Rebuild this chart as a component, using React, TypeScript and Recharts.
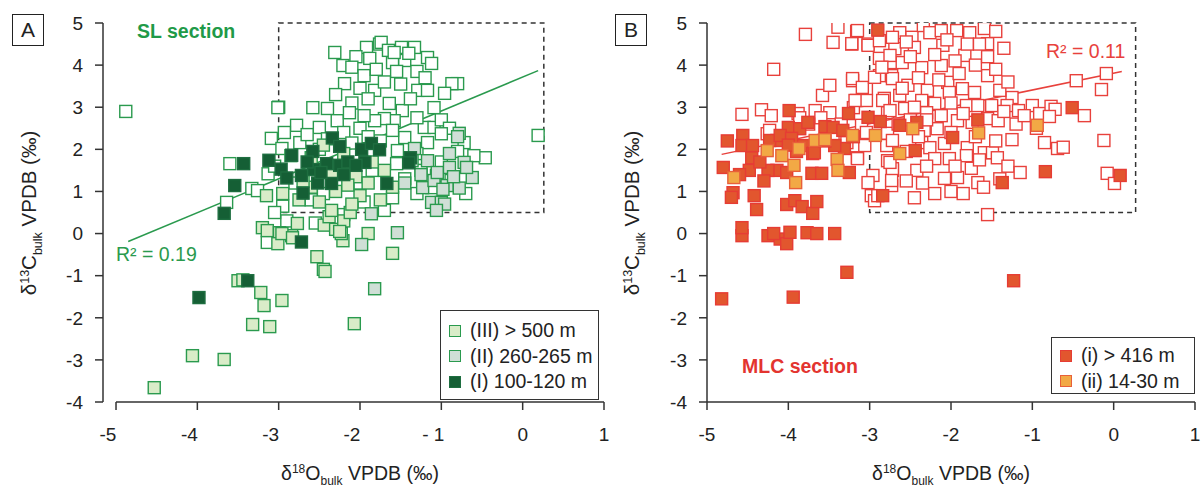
import {
  ScatterChart,
  Scatter,
  XAxis,
  YAxis,
  ReferenceArea,
  ReferenceLine,
} from "recharts";

// SL section (panel A) — [δ18O, δ13C]
const slOpen = [
  [-4.88, 2.9], [-3.0, 3.0], [0.19, 2.33], [-0.46, 1.8], [-3.6, 1.66], [-3.33, 1.07], [-3.64, 0.74], [-3.13, 1.42], [-3.26, 1.02],
  [-2.31, 4.3], [-2.21, 3.99], [-2.19, 3.56], [-1.92, 4.42], [-1.76, 4.5], [-1.74, 4.54], [-1.49, 4.42], [-1.33, 4.42], [-1.17, 4.18],
  [-1.12, 4.04], [-1.88, 4.16], [-1.6, 4.06], [-1.45, 4.11], [-1.65, 4.35], [-1.58, 4.3], [-1.4, 4.28], [-2.05, 4.2], [-2.1, 3.95],
  [-1.95, 3.75], [-1.8, 3.9], [-1.55, 3.85], [-1.3, 3.85], [-1.2, 3.7], [-0.8, 3.56], [-0.87, 3.56], [-0.96, 3.33], [-1.82, 3.4],
  [-1.29, 3.4], [-1.17, 3.4], [-1.5, 3.55], [-1.7, 3.6], [-2.0, 3.45], [-2.3, 3.3], [-1.9, 3.2], [-1.64, 3.09], [-1.48, 2.92],
  [-1.09, 2.99], [-1.38, 3.2], [-2.1, 3.1],
  [-2.58, 2.99], [-2.4, 2.97], [-3.01, 2.99], [-2.78, 2.57], [-2.28, 2.68], [-2.13, 2.87], [-2.5, 2.52], [-2.93, 2.4], [-3.09, 2.26],
  [-2.96, 2.02], [-2.74, 2.16], [-1.21, 2.52], [-1.45, 2.28], [-1.09, 2.52], [-1.58, 2.68], [-1.7, 2.73], [-1.82, 2.68], [-1.95, 2.8],
  [-2.0, 2.5], [-2.2, 2.4], [-2.4, 2.25], [-1.3, 2.75], [-1.0, 2.7], [-0.9, 2.5], [-2.65, 2.35], [-1.6, 2.45],
  [-1.54, 1.97], [-1.55, 1.66], [-1.17, 2.16], [-1.0, 2.37], [-0.72, 2.16], [-1.25, 1.5], [-1.06, 1.38], [-0.88, 1.26], [-1.12, 1.09],
  [-0.6, 1.85], [-0.8, 1.95], [-1.3, 1.9], [-1.75, 2.2], [-1.9, 2.3], [-2.1, 2.15], [-2.5, 2.0], [-2.85, 1.85], [-3.05, 1.6],
  [-2.8, 1.2], [-2.45, 0.95], [-2.0, 1.2], [-1.85, 1.5], [-1.45, 1.3], [-1.3, 0.95], [-1.6, 0.85], [-1.95, 0.75], [-0.7, 0.95],
  [-1.0, 1.7], [-2.95, 0.65], [-2.6, 0.8],
  [-3.14, -0.21], [-2.9, 0.3], [-2.55, 0.25], [-2.2, 0.45], [-1.7, 0.55], [-3.05, 0.5],
];

const slUpper = [
  [-4.53, -3.66], [-4.06, -2.9], [-3.67, -2.99], [-3.32, -2.16], [-3.11, -2.21], [-3.22, -1.4], [-3.18, -1.71], [-2.96, -1.59],
  [-3.5, -1.12], [-3.44, -1.1], [-2.53, -0.55], [-2.45, -0.85], [-2.43, -0.9], [-1.6, -0.47], [-2.07, -2.14],
  [-3.2, 0.14], [-3.14, 0.07], [-2.99, 0.02], [-2.77, 0.24], [-2.84, -0.05], [-3.01, -0.24], [-2.96, 0.0], [-2.83, -0.1],
  [-2.21, -0.17], [-2.23, 0.0], [-1.9, 0.0], [-2.44, 0.2], [-2.38, 0.4], [-2.3, 0.1], [-2.2, 0.3], [-2.12, 0.5], [-2.35, 0.55],
  [-2.25, 0.05], [-3.15, 0.9], [-2.95, 0.95], [-2.6, 1.8], [-2.45, 2.1], [-2.2, 1.9], [-2.05, 1.35], [-1.9, 1.2], [-1.7, 1.5],
  [-2.3, 1.0], [-2.6, 1.1], [-2.75, 0.8], [-2.5, 0.75], [-2.0, 0.9], [-1.85, 1.7], [-2.35, 1.45], [-2.7, 1.25], [-1.75, 0.8],
  [-2.1, 0.7], [-1.6, 1.1], [-2.15, 1.15],
];

const slMiddle = [
  [-0.78, 2.38], [-0.8, 2.3], [-0.9, 1.9], [-1.33, 2.02], [-1.17, 1.73], [-0.72, 1.69], [-0.62, 1.33], [-0.78, 1.08],
  [-0.93, 1.14], [-1.12, 0.74], [-1.0, 0.74], [-0.96, 0.7], [-1.86, 0.47], [-1.54, 0.02], [-1.23, 1.09], [-1.09, 1.26],
  [-0.9, 1.57], [-0.69, 1.57], [-1.06, 0.55], [-1.36, 1.73], [-1.82, -1.31], [-1.98, -0.26], [-1.05, 1.45], [-1.25, 1.4],
  [-0.85, 1.35], [-1.45, 1.2], [-0.98, 1.05],
];

const slLower = [
  [-3.43, 1.66], [-3.54, 1.14], [-3.67, 0.48], [-3.98, -1.52], [-3.38, -1.12], [-3.12, 1.74], [-2.97, 1.53], [-2.84, 1.86],
  [-2.9, 1.32], [-2.72, 1.38], [-2.7, 0.96], [-2.58, 1.95], [-2.57, 1.52], [-2.52, 1.2], [-2.41, 1.66], [-2.35, 1.19],
  [-2.34, 2.27], [-2.25, 2.07], [-2.25, 1.62], [-2.15, 1.7], [-1.98, 2.0], [-1.94, 1.69], [-1.86, 2.14], [-1.76, 1.99],
  [-1.67, 1.19], [-1.38, 1.8], [-1.4, 1.68], [-2.72, -0.2], [-2.05, 1.62], [-2.65, 1.7], [-2.48, 1.45], [-2.2, 1.4],
];

// MLC section (panel B)
const mlcOpen = [
  [-3.79, 4.73], [-3.39, 4.9], [-3.16, 4.8], [-3.45, 4.54], [-3.22, 4.5], [-3.02, 4.5], [-4.18, 3.9], [-3.58, 3.28], [-3.49, 3.52],
  [-4.57, 2.83], [-4.33, 2.94], [-4.21, 2.8], [-3.88, 2.85], [-3.67, 2.92], [-3.49, 2.87], [-3.21, 3.63], [-3.16, 3.16], [-3.04, 3.44],
  [-3.15, 1.8], [-2.96, 1.38], [-2.98, 0.9], [-2.94, 0.78], [-3.06, 2.09], [-4.26, 2.37], [-4.23, 2.45], [-3.86, 2.75], [-3.2, 2.99],
  [-3.1, 2.57], [-3.28, 2.16], [-3.35, 2.6], [-3.45, 2.3], [-3.6, 2.75], [-3.75, 2.6],
  [-3.15, 4.82], [-2.63, 4.77], [-2.48, 4.66], [-2.34, 4.94], [-2.26, 4.77], [-2.12, 4.82], [-1.93, 4.82], [-1.77, 4.77], [-1.59, 4.87],
  [-1.55, 4.51], [-1.83, 4.23], [-2.1, 4.47], [-2.45, 4.42], [-2.69, 4.39], [-3.02, 4.47], [-3.22, 4.51], [-2.88, 4.16], [-2.73, 4.06],
  [-2.6, 4.06], [-2.36, 3.94], [-2.12, 3.99], [-3.21, 3.68], [-3.09, 3.47], [-2.88, 3.75], [-2.73, 3.75], [-2.53, 3.52], [-2.29, 3.4],
  [-2.04, 3.59], [-1.86, 3.44], [-1.71, 3.35], [-1.55, 3.75], [-1.5, 3.04], [-3.04, 3.16], [-2.82, 3.21], [-2.63, 3.28], [-2.36, 3.16],
  [-2.2, 3.09], [-2.02, 3.35], [-1.81, 3.04], [-1.67, 3.04], [-3.18, 3.16], [-2.78, 2.87], [-2.57, 2.97], [-2.3, 2.87], [-2.12, 2.8],
  [-1.92, 2.68], [-1.74, 2.64], [-1.55, 2.73], [-2.78, 2.38], [-2.33, 2.45], [-2.17, 2.49], [-2.79, 2.09], [-2.36, 2.16], [-2.26, 2.04],
  [-2.08, 2.14], [-1.8, 2.04], [-1.59, 1.92], [-3.15, 1.78], [-2.78, 1.73], [-2.2, 1.78], [-2.02, 1.78], [-1.81, 1.85], [-2.42, 1.5],
  [-2.72, 1.5], [-2.08, 1.31], [-1.92, 1.33], [-1.67, 1.21], [-2.73, 1.14], [-1.55, 0.45], [-2.88, 4.58], [-2.94, 3.71],
  [-3.04, 2.4], [-3.02, 1.21], [-2.72, 1.54], [-2.73, 1.26], [-2.75, 1.69], [-2.84, 3.16], [-2.72, 3.68], [-2.75, 4.23], [-2.72, 4.66],
  [-2.75, 2.92], [-2.72, 2.21], [-2.5, 4.2], [-2.2, 4.25], [-1.95, 4.1], [-1.7, 4.0], [-2.4, 3.7], [-2.15, 3.65], [-1.9, 3.8],
  [-2.6, 3.45], [-2.45, 3.0], [-2.0, 3.1], [-1.85, 2.85], [-2.5, 2.7], [-2.4, 2.3], [-2.0, 2.4], [-1.7, 2.3], [-2.55, 1.95],
  [-2.3, 1.6], [-1.95, 1.6], [-1.75, 1.55], [-2.55, 1.25], [-2.35, 1.2], [-2.2, 0.95], [-2.45, 0.85], [-2.9, 0.9], [-1.65, 4.5],
  [-1.8, 4.5], [-2.05, 4.6], [-2.55, 4.55], [-2.85, 3.95], [-2.3, 2.7], [-2.65, 2.6], [-1.65, 1.75], [-2.0, 1.0], [-1.85, 0.95],
  [-0.09, 3.8], [-0.46, 3.63], [-0.15, 3.42], [-1.25, 3.23], [-1.31, 3.04], [-1.17, 2.92], [-1.0, 3.04], [-0.91, 2.85], [-0.77, 3.02],
  [-0.72, 2.95], [-0.79, 2.78], [-0.36, 2.8], [-1.42, 2.68], [-1.25, 2.23], [-0.85, 2.16], [-0.69, 2.02], [-0.62, 2.05], [-0.12, 2.21],
  [-0.08, 1.43], [0.01, 1.19], [-1.49, 1.92], [-1.43, 1.8], [-1.4, 3.4], [-1.35, 2.9], [-1.2, 2.6], [-1.45, 2.2], [-1.3, 1.6],
  [-1.15, 1.45], [-1.35, 4.4], [-1.3, 3.6], [-1.45, 3.9], [-1.1, 2.8], [-0.95, 2.5], [-1.4, 1.3], [-1.6, 1.1], [-1.45, 4.8], [-1.55, 4.2],
];

const mlcUpper = [
  [-4.82, -1.55], [-3.94, -1.51], [-3.28, -0.92], [-1.23, -1.12],
  [-4.57, -0.05], [-4.25, -0.05], [-4.1, -0.13], [-4.02, -0.24], [-3.98, 0.03], [-4.18, 0.0], [-3.77, 0.02], [-3.65, 0.0], [-3.43, 0.0],
  [-4.57, 0.14], [-4.8, 1.57], [-4.56, 2.33], [-4.57, 2.09], [-4.45, 1.8], [-4.48, 1.5], [-4.68, 0.97], [-4.7, 0.86], [-4.42, 0.9],
  [-4.39, 0.57], [-4.14, 2.21], [-4.14, 1.5], [-4.02, 1.45], [-4.02, 0.69], [-3.92, 0.78], [-3.99, 2.92], [-4.0, 2.52], [-3.86, 2.49],
  [-3.76, 2.64], [-3.82, 2.09], [-3.7, 1.9], [-3.71, 1.43], [-3.59, 1.43], [-3.83, 0.64], [-3.7, 0.48], [-3.65, 0.76], [-3.55, 2.54],
  [-3.45, 2.52], [-3.31, 2.02], [-3.26, 2.85], [-3.25, 1.45], [-3.02, 2.76], [-2.87, 2.66], [-2.84, 0.9], [-2.9, 4.83], [-2.63, 2.57],
  [-2.42, 2.64], [-2.44, 1.97], [-1.98, 2.28], [-1.67, 2.7], [-0.51, 2.99], [-0.84, 1.47], [-1.37, 1.21], [0.08, 1.38], [-4.44, 2.09],
  [-4.23, 2.21], [-4.1, 2.33], [-3.96, 2.26], [-3.43, 2.09], [-3.33, 2.45], [-4.25, 1.5], [-3.68, 1.92], [-4.3, 1.25], [-4.6, 1.4],
  [-4.35, 1.7], [-3.9, 1.95], [-3.55, 2.2], [-3.2, 2.3], [-4.0, 2.1], [-4.75, 2.2],
];

const mlcLower = [
  [-4.67, 1.33], [-4.26, 1.97], [-4.08, 1.85], [-3.87, 2.02], [-3.93, 1.62], [-3.91, 1.21], [-3.67, 2.21], [-3.55, 2.23],
  [-3.4, 1.76], [-3.39, 1.5], [-3.21, 2.33], [-2.93, 2.33], [-2.63, 1.9], [-2.47, 2.49], [-1.66, 2.39], [-0.94, 2.57],
];

const xTicks = [-5, -4, -3, -2, -1, 0, 1];
const yTicks = [-4, -3, -2, -1, 0, 1, 2, 3, 4, 5];

const pts = (arr: number[][]) => arr.map(([x, y]) => ({ x, y }));

const square = (fill: string, stroke: string) => (props: any) => {
  const { cx, cy } = props;
  if (cx == null || cy == null) return <g />;
  return <rect x={cx - 6} y={cy - 6} width={12} height={12} fill={fill} stroke={stroke} strokeWidth={1.4} />;
};

const xTick = (shiftNeg: number, spacedOne: boolean) => (props: any) => {
  const { x, y, payload } = props;
  const v = payload.value;
  const label = spacedOne && v === -1 ? "- 1" : String(v);
  return (
    <text x={x + (v < 0 ? shiftNeg : 0)} y={y + 29} textAnchor="middle" fontSize={19} fill="#222">
      {label}
    </text>
  );
};

const GREEN = "#2a9a4e";
const RED = "#e8413c";
const AXIS = "#333";

const Title = ({ children, style }: any) => (
  <div style={{ position: "absolute", whiteSpace: "nowrap", ...style }}>{children}</div>
);

const XTitle = ({ cx }: { cx: number }) => (
  <Title style={{ left: cx, top: 475, transform: "translate(-50%, -50%)", fontSize: 19.5, color: "#222" }}>
    δ<sup style={{ fontSize: 12 }}>18</sup>O<sub style={{ fontSize: 12 }}>bulk</sub> VPDB (‰)
  </Title>
);

const YTitle = ({ cx }: { cx: number }) => (
  <Title
    style={{ left: cx, top: 213, transform: "translate(-50%, -50%) rotate(-90deg)", fontSize: 20.5, color: "#222" }}
  >
    δ<sup style={{ fontSize: 12.5 }}>13</sup>C<sub style={{ fontSize: 12.5 }}>bulk</sub> VPDB (‰)
  </Title>
);

const PanelBox = ({ left, label }: { left: number; label: string }) => (
  <div
    style={{
      position: "absolute",
      left,
      top: 14,
      width: 30,
      height: 30,
      border: "1.5px solid #222",
      fontSize: 21,
      lineHeight: "30px",
      textAlign: "center",
      color: "#222",
    }}
  >
    {label}
  </div>
);

const LegendRow = ({ fill, stroke, text }: any) => (
  <div style={{ display: "flex", alignItems: "center", height: 25.5 }}>
    <div style={{ width: 10, height: 10, background: fill, border: `1.4px solid ${stroke}`, marginLeft: 8, marginRight: 9 }} />
    <span style={{ fontSize: 19.5, color: "#222" }}>{text}</span>
  </div>
);

const App = () => {
  return (
    <div
      style={{
        position: "absolute",
        left: 0,
        top: 0,
        width: 1203,
        height: 487,
        background: "#fff",
        fontFamily: "'Liberation Sans', Arial, sans-serif",
      }}
    >
      {/* Panel A */}
      <div style={{ position: "absolute", left: 0, top: 0 }}>
        <ScatterChart width={620} height={487} margin={{ top: 23, right: 16, bottom: 0, left: 0 }}>
          <XAxis
            type="number"
            dataKey="x"
            domain={[-5.16, 1]}
            ticks={xTicks}
            height={85}
            axisLine={false}
            tickSize={8}
            tickLine={{ stroke: AXIS, strokeWidth: 1.5 }}
            tick={xTick(-8, true)}
            allowDataOverflow
          />
          <YAxis
            type="number"
            dataKey="y"
            domain={[-4, 5]}
            ticks={yTicks}
            width={103}
            tickSize={8}
            tickMargin={12}
            axisLine={{ stroke: AXIS, strokeWidth: 1.5 }}
            tickLine={{ stroke: AXIS, strokeWidth: 1.5 }}
            tick={{ fontSize: 19, fill: "#222" }}
            allowDataOverflow
          />
          <ReferenceArea x1={-3} x2={0.26} y1={0.5} y2={5} fill="none" stroke={AXIS} strokeWidth={1.5} strokeDasharray="5 4" />
          <ReferenceLine segment={[{ x: -5, y: -4 }, { x: 1, y: -4 }]} stroke={AXIS} strokeWidth={1.5} />
          <Scatter data={pts(slOpen)} shape={square("#fff", GREEN)} isAnimationActive={false} />
          <Scatter data={pts(slUpper)} shape={square("#d9ecc8", GREEN)} isAnimationActive={false} />
          <Scatter data={pts(slMiddle)} shape={square("#cfdfd6", GREEN)} isAnimationActive={false} />
          <Scatter data={pts(slLower)} shape={square("#155f35", "#1e6e40")} isAnimationActive={false} />
          <ReferenceLine segment={[{ x: -4.85, y: -0.19 }, { x: 0.19, y: 3.87 }]} stroke={GREEN} strokeWidth={1.5} />
        </ScatterChart>
      </div>

      {/* Panel B */}
      <div style={{ position: "absolute", left: 600, top: 0 }}>
        <ScatterChart width={603} height={487} margin={{ top: 23, right: 8, bottom: 0, left: 0 }}>
          <XAxis
            type="number"
            dataKey="x"
            domain={[-5, 1]}
            ticks={xTicks}
            height={85}
            axisLine={{ stroke: AXIS, strokeWidth: 1.5 }}
            tickSize={8}
            tickLine={{ stroke: AXIS, strokeWidth: 1.5 }}
            tick={xTick(0, false)}
            allowDataOverflow
          />
          <YAxis
            type="number"
            dataKey="y"
            domain={[-4, 5]}
            ticks={yTicks}
            width={107}
            tickSize={8}
            tickMargin={12}
            axisLine={{ stroke: AXIS, strokeWidth: 1.5 }}
            tickLine={{ stroke: AXIS, strokeWidth: 1.5 }}
            tick={{ fontSize: 19, fill: "#222" }}
            allowDataOverflow
          />
          <ReferenceArea x1={-3} x2={0.27} y1={0.5} y2={5} fill="none" stroke={AXIS} strokeWidth={1.5} strokeDasharray="5 4" />
          <Scatter data={pts(mlcOpen)} shape={square("#fff", RED)} isAnimationActive={false} />
          <Scatter data={pts(mlcUpper)} shape={square("#e2562e", "#e63c34")} isAnimationActive={false} />
          <Scatter data={pts(mlcLower)} shape={square("#f2a945", "#e8603a")} isAnimationActive={false} />
          <ReferenceLine segment={[{ x: -4.82, y: 1.88 }, { x: 0.1, y: 3.85 }]} stroke={RED} strokeWidth={1.5} />
        </ScatterChart>
      </div>

      <PanelBox left={12} label="A" />
      <PanelBox left={615} label="B" />

      <Title style={{ left: 137, top: 20, fontSize: 19.5, fontWeight: "bold", color: "#1f9a48" }}>SL section</Title>
      <Title style={{ left: 742, top: 355, fontSize: 19.5, fontWeight: "bold", color: "#e3342f" }}>MLC section</Title>
      <Title style={{ left: 116, top: 243, fontSize: 19.5, color: GREEN }}>R² = 0.19</Title>
      <Title style={{ left: 1046, top: 40, fontSize: 19.5, color: RED }}>R² = 0.11</Title>

      <XTitle cx={360} />
      <XTitle cx={951} />
      <YTitle cx={31} />
      <YTitle cx={634} />

      {/* Legend A */}
      <div
        style={{
          position: "absolute",
          left: 440,
          top: 310,
          width: 157,
          height: 81,
          border: "1.5px solid #333",
          background: "#fff",
          paddingTop: 7,
          boxSizing: "content-box",
        }}
      >
        <LegendRow fill="#d9ecc8" stroke={GREEN} text="(III) > 500 m" />
        <LegendRow fill="#cfdfd6" stroke={GREEN} text="(II) 260-265 m" />
        <LegendRow fill="#155f35" stroke="#1e6e40" text="(I) 100-120 m" />
      </div>

      {/* Legend B */}
      <div
        style={{
          position: "absolute",
          left: 1051,
          top: 337,
          width: 142,
          height: 50,
          border: "1.5px solid #333",
          background: "#fff",
          paddingTop: 5,
          boxSizing: "content-box",
        }}
      >
        <LegendRow fill="#e2562e" stroke="#e63c34" text="(i) > 416 m" />
        <LegendRow fill="#f2a945" stroke="#e8603a" text="(ii) 14-30 m" />
      </div>
    </div>
  );
};

export default App;
